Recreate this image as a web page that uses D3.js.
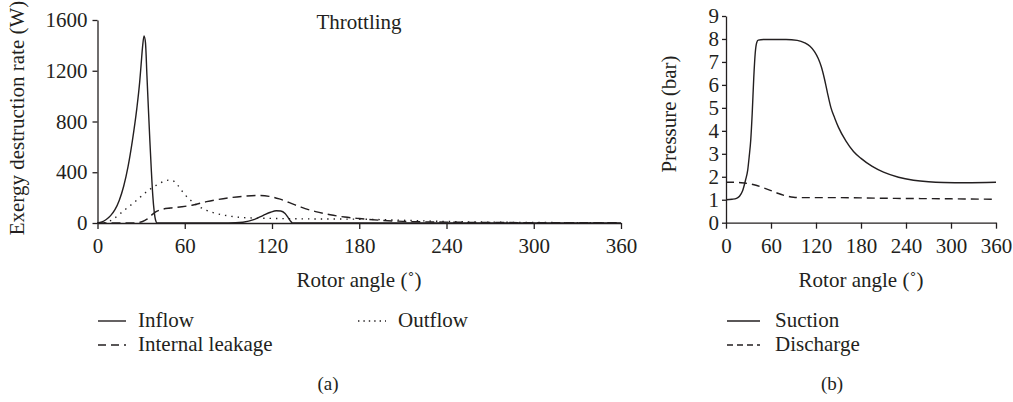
<!DOCTYPE html>
<html>
<head>
<meta charset="utf-8">
<script src="https://cdn.jsdelivr.net/npm/d3@7"></script>
<style>
  body { margin: 0; background: #fff; }
  svg { display: block; }
  text { font-family: "Liberation Serif", "DejaVu Serif", serif; fill: #231f20; }
  .axis text { font-size: 21px; }
  .axis path, .axis line { fill: none; stroke: #231f20; stroke-width: 1.3; }
  .series { fill: none; stroke: #231f20; stroke-width: 1.4; }
</style>
</head>
<body>
<svg id="chart" width="1013" height="402"></svg>
<script>
// ---- data ----
const angleTicks = [0, 60, 120, 180, 240, 300, 360];
const exergyTicks = [0, 400, 800, 1200, 1600];
const pressureTicks = [0, 1, 2, 3, 4, 5, 6, 7, 8, 9];

// (a) exergy destruction rate, W  [angle, value]
const inflow = [[0,0],[3,8],[6,28],[9,58],[12,105],[15,180],[18,290],[21,445],[24,650],[27,900],[29,1110],
  [30,1250],[31,1390],[32,1475],[33,1420],[34,1160],[35,900],[36,650],[37,420],[38,220],[39,90],[40,20],[41,0],
  [60,0],[90,0],[100,6],[108,28],[114,60],[119,85],[123,97],[126,95],[129,75],[131,45],[133,12],[134,0],[200,0],[360,0]];
const outflow = [[0,0],[5,2],[10,25],[15,68],[20,115],[25,160],[30,210],[35,258],[40,295],[45,325],[49,338],
  [52,332],[55,300],[60,225],[65,170],[70,128],[75,100],[80,80],[90,56],[100,43],[120,36],[150,32],[180,30],
  [200,25],[220,18],[240,12],[270,7],[300,4],[330,3],[360,2]];
const leakage = [[0,0],[20,0],[27,2],[31,12],[34,30],[37,60],[40,88],[44,106],[50,118],[58,128],[65,140],[75,168],
  [90,198],[100,210],[110,217],[118,210],[125,190],[132,160],[140,125],[150,90],[160,65],[170,47],[180,35],
  [195,21],[210,13],[240,7],[270,4],[300,3],[330,2],[360,2]];

// (b) pressure, bar  [angle, value]
const suction = [[0,1.0],[8,1.02],[14,1.06],[18,1.15],[22,1.38],[26,1.85],[29,2.3],[31,2.9],[33,3.6],[35,4.8],
  [37,6.3],[39,7.4],[41,7.85],[43,7.95],[50,7.98],[80,7.98],[95,7.94],[105,7.83],[112,7.68],[118,7.45],
  [123,7.15],[127,6.8],[131,6.3],[135,5.7],[140,5.0],[145,4.55],[150,4.15],[160,3.55],[170,3.1],[180,2.8],
  [195,2.45],[210,2.2],[230,1.98],[250,1.85],[270,1.78],[290,1.75],[320,1.74],[360,1.76]];
const discharge = [[0,1.76],[10,1.76],[20,1.74],[30,1.7],[40,1.63],[50,1.52],[60,1.4],[70,1.27],[80,1.17],
  [90,1.11],[100,1.09],[120,1.09],[150,1.09],[180,1.08],[220,1.06],[260,1.05],[300,1.04],[360,1.02]];

const svg = d3.select('#chart');

// ---- (a) ----
const xa = d3.scaleLinear().domain([0, 360]).range([97.5, 621]);
const ya = d3.scaleLinear().domain([0, 1600]).range([223, 20]);

const ga = svg.append('g');
ga.append('g')
    .attr('class', 'axis')
    .attr('transform', `translate(0,${ya(0)})`)
    .call(d3.axisBottom(xa).tickValues(angleTicks).tickSize(6).tickSizeOuter(0).tickPadding(9))
ga.append('g')
    .attr('class', 'axis')
    .attr('transform', `translate(${xa(0)},0)`)
    .call(d3.axisLeft(ya).tickValues(exergyTicks).tickFormat(d3.format('d')).tickSize(5).tickSizeOuter(0).tickPadding(5))

const la = d3.line().x(d => xa(d[0])).y(d => ya(d[1])).curve(d3.curveMonotoneX);
ga.append('path').datum(inflow).attr('class', 'series').attr('d', la);
ga.append('path').datum(outflow).attr('class', 'series').attr('stroke-dasharray', '1.4,5').attr('d', la);
ga.append('path').datum(leakage).attr('class', 'series').attr('stroke-dasharray', '9,5').attr('d', la);

ga.append('text').attr('x', 359).attr('y', 29).attr('text-anchor', 'middle').style('font-size', '21px').text('Throttling');
ga.append('text').attr('x', 359).attr('y', 287).attr('text-anchor', 'middle').style('font-size', '21px').text('Rotor angle (˚)');
ga.append('text')
    .attr('transform', 'translate(24,118) rotate(-90)')
    .attr('text-anchor', 'middle').style('font-size', '21px')
    .text('Exergy destruction rate (W)');

// ---- (b) ----
const xb = d3.scaleLinear().domain([0, 360]).range([726, 996]);
const yb = d3.scaleLinear().domain([0, 9]).range([222.7, 16]);

const gb = svg.append('g');
gb.append('g')
    .attr('class', 'axis')
    .attr('transform', `translate(0,${yb(0)})`)
    .call(d3.axisBottom(xb).tickValues(angleTicks).tickSize(6).tickSizeOuter(0).tickPadding(9))
gb.append('g')
    .attr('class', 'axis')
    .attr('transform', `translate(${xb(0)},0)`)
    .call(d3.axisLeft(yb).tickValues(pressureTicks).tickSize(4).tickSizeOuter(0).tickPadding(3))

const lb = d3.line().x(d => xb(d[0])).y(d => yb(d[1])).curve(d3.curveMonotoneX);
gb.append('path').datum(suction).attr('class', 'series').attr('d', lb);
gb.append('path').datum(discharge).attr('class', 'series').attr('stroke-dasharray', '8,5').attr('d', lb);

gb.append('text').attr('x', 861).attr('y', 287).attr('text-anchor', 'middle').style('font-size', '21px').text('Rotor angle (˚)');
gb.append('text')
    .attr('transform', 'translate(676,114) rotate(-90)')
    .attr('text-anchor', 'middle').style('font-size', '21px')
    .text('Pressure (bar)');

// ---- legends ----
const legendA = [
  {name: 'Inflow', dash: null, x: 98, y: 321},
  {name: 'Internal leakage', dash: '8,5', x: 98, y: 345},
  {name: 'Outflow', dash: '1.4,4', x: 358, y: 321}
];
const legendB = [
  {name: 'Suction', dash: null, x: 727, y: 321},
  {name: 'Discharge', dash: '6,4', x: 727, y: 345}
];
const drawLegend = (items, len, gap) => {
  const g = svg.append('g').selectAll('g').data(items).enter().append('g');
  g.append('line')
      .attr('x1', d => d.x).attr('x2', d => d.x + len)
      .attr('y1', d => d.y).attr('y2', d => d.y)
      .attr('stroke', '#231f20').attr('stroke-width', 1.4)
      .attr('stroke-dasharray', d => d.dash);
  g.append('text')
      .attr('x', d => d.x + len + gap).attr('y', d => d.y + 6)
      .style('font-size', '21px')
      .text(d => d.name);
};
drawLegend(legendA, 28, 12);
drawLegend(legendB, 33, 15);

svg.append('text').attr('x', 328).attr('y', 390).attr('text-anchor', 'middle').style('font-size', '19px').text('(a)');
svg.append('text').attr('x', 832).attr('y', 390).attr('text-anchor', 'middle').style('font-size', '19px').text('(b)');
</script>
</body>
</html>
